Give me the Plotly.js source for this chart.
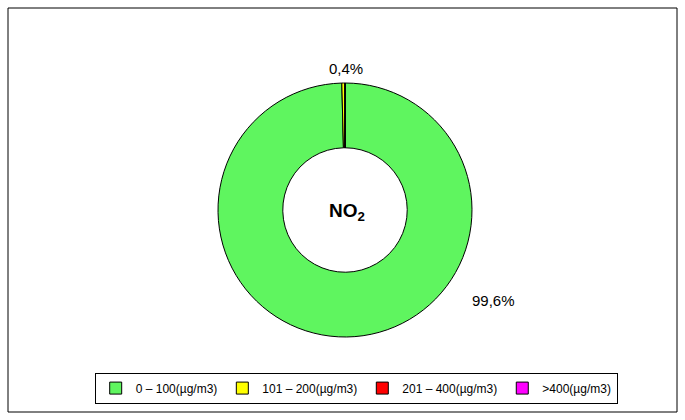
<!DOCTYPE html>
<html><head><meta charset="utf-8">
<script src="https://cdn.plot.ly/plotly-3.0.1.min.js"></script>
<style>body{margin:0}#c{width:685px;height:420px}</style></head>
<body><div id="c"></div>
<script>
const categories = ['0 – 100(µg/m3)', '101 – 200(µg/m3)', '201 – 400(µg/m3)', '>400(µg/m3)'];
const shares = [99.6, 0.4, 0, 0];
const colors = ['#5ff55f', '#ffff00', '#ff0000', '#ff00ff'];
const shareLabels = ['99,6%', '0,4%'];

const data = [{
  type: 'pie', hole: 0.49, sort: false, direction: 'clockwise', rotation: 0,
  labels: categories, values: shares,
  marker: { colors: colors, line: { color: '#000', width: 1 } },
  textinfo: 'none', hoverinfo: 'label+percent',
  domain: { x: [218/685, 472/685], y: [83/420, 337/420] }
}];

const layout = {
  width: 685, height: 420,
  margin: { l: 0, r: 0, t: 0, b: 0 },
  paper_bgcolor: '#fff',
  font: { family: 'Liberation Sans, Arial, sans-serif', size: 13, color: '#000' },
  showlegend: true,
  legend: {
    orientation: 'h', x: 0.52, xanchor: 'center', y: 0.076, yanchor: 'middle',
    bordercolor: '#000', borderwidth: 1, font: { size: 12 }, traceorder: 'normal',
    itemwidth: 30
  },
  shapes: [{ type: 'rect', xref: 'paper', yref: 'paper', x0: 8/685, x1: 677/685, y0: 8/420, y1: 412/420,
    line: { color: '#000', width: 1 } }],
  annotations: [
    { text: '<b>NO<sub>2</sub></b>', x: 347/685, y: 1 - 212/420, xref: 'paper', yref: 'paper', showarrow: false, font: { size: 19 } },
    { text: shareLabels[1], x: 346/685, y: 1 - 58/420, xref: 'paper', yref: 'paper', showarrow: false, font: { size: 15 } },
    { text: shareLabels[0], x: 470/685, y: 1 - 311/420, xref: 'paper', yref: 'paper', xanchor: 'left', showarrow: false, font: { size: 15 } }
  ]
};
Plotly.newPlot('c', data, layout, { displayModeBar: false });
</script></body></html>
